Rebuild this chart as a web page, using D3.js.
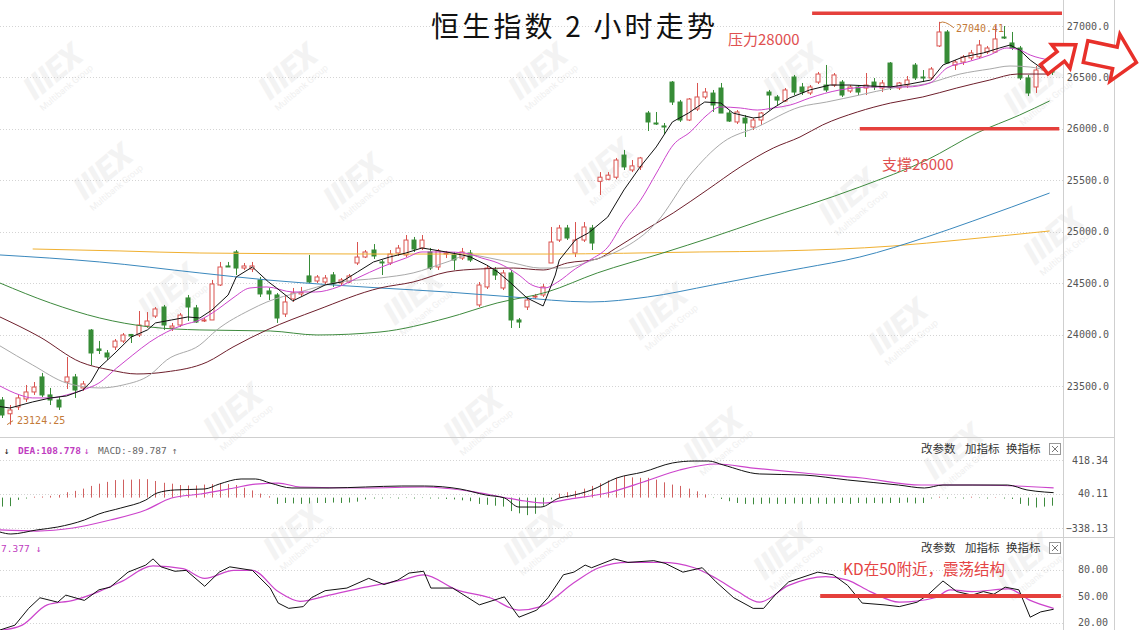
<!DOCTYPE html>
<html><head><meta charset="utf-8">
<script src="https://cdn.jsdelivr.net/npm/d3@7"></script>
<style>body{margin:0;background:#fff}svg{display:block}</style>
</head><body>
<svg id="c" width="1140" height="630"></svg>
<script>
// ---------- DATA ----------
const opens=[23364,23230,23296,23374,23442,23588,23413,23364,23539,23588,23481,24044,23860,23821,23879,23937,24001,23996,24083,24180,24268,24064,24093,24356,24259,24132,24142,24482,24667,24803,24647,24637,24531,24424,24385,24200,24346,24395,24570,24521,24511,24580,24502,24511,24696,24754,24822,24706,24696,24793,24774,24919,24841,24803,24657,24783,24774,24744,24793,24288,24463,24628,24453,24599,24142,24268,24366,24385,24696,24919,25036,24793,24919,25036,25490,25510,25530,25745,25600,25630,26154,26057,26028,26455,26261,26086,26193,26310,26348,26397,26154,26067,26105,26018,26086,26358,26310,26271,26504,26407,26349,26455,26426,26426,26455,26368,26407,26397,26455,26397,26640,26397,26426,26620,26504,26495,26806,26942,26620,26650,26690,26700,26747,26747,26893,26835,26786,26495,26407,26572,26620];
const highs=[23393,23315,23413,23510,23539,23627,23481,23393,23782,23617,23549,24054,23938,23850,23957,24015,24006,24229,24219,24268,24288,24113,24210,24385,24288,24161,24531,24706,24706,24822,24696,24706,24560,24453,24404,24385,24453,24463,24774,24579,24579,24608,24550,24589,24900,24822,24880,24725,24822,24871,24968,24949,24968,24842,24832,24813,24803,24842,24822,24511,24676,24657,24628,24628,24161,24365,24395,24492,25046,25066,25066,25094,25094,25066,25580,25580,25717,25795,25697,25727,26174,26164,26057,26465,26281,26300,26446,26397,26378,26446,26174,26183,26135,26106,26164,26378,26329,26397,26524,26446,26426,26553,26621,26543,26475,26426,26426,26543,26494,26475,26650,26456,26514,26640,26572,26601,27040.41,26961,26669,26718,26767,26864,26806,27000,27000,26942,26806,26524,26611,26631,26650];
const lows=[23189,23124.25,23267,23345,23413,23393,23315,23267,23471,23384,23452,23704,23811,23753,23850,23918,23918,23976,24064,24161,24045,24035,24074,24132,24113,24122,24142,24472,24657,24579,24628,24608,24365,24336,24113,24171,24317,24375,24501,24501,24492,24463,24482,24501,24676,24744,24735,24579,24676,24764,24754,24803,24822,24628,24628,24744,24628,24725,24706,24268,24443,24531,24433,24064,24064,24239,24346,24365,24696,24900,24920,24754,24900,24822,25357,25500,25510,25600,25580,25600,25979,26038,25950,26232,26067,26076,26174,26290,26164,26154,26067,26047,25921,25989,26038,26183,26232,26261,26329,26329,26329,26436,26358,26407,26310,26349,26329,26329,26378,26358,26378,26378,26397,26475,26455,26475,26796,26640,26572,26621,26669,26689,26728,26738,26874,26767,26475,26319,26349,26553,26524];
const closes=[23218,23267,23384,23442,23490,23413,23364,23296,23588,23461,23520,23821,23845,23782,23937,23996,23986,24093,24132,24249,24093,24083,24190,24268,24122,24142,24492,24657,24657,24647,24667,24667,24395,24395,24161,24317,24405,24410,24511,24560,24550,24492,24531,24570,24754,24803,24764,24700,24783,24841,24919,24832,24919,24647,24813,24793,24725,24803,24725,24482,24647,24579,24599,24142,24122,24336,24375,24463,24900,25036,24939,24919,25046,24890,25530,25550,25697,25630,25640,25717,26067,26047,26018,26261,26086,26290,26310,26358,26232,26154,26076,26164,26057,26086,26154,26329,26280,26378,26358,26358,26407,26533,26378,26524,26329,26407,26358,26426,26407,26446,26407,26446,26475,26495,26495,26582,26942,26640,26650,26698,26738,26815,26786,26874,26883,26786,26495,26349,26572,26610,26552];

// moving averages: [bar index, price]
const ma5=[[-0.25,23300],[1,23286],[3.8,23345],[6,23384],[8,23403],[10,23461],[11,23539],[12,23675],[14,23821],[16,23976],[18,24045],[19,24113],[21,24142],[23,24171],[24.5,24161],[26,24239],[28,24385],[29,24560],[31,24657],[33,24511],[34,24453],[36,24327],[38,24404],[40,24482],[42,24511],[44,24608],[46,24706],[48,24754],[50,24793],[52,24842],[55,24803],[57,24774],[58,24754],[60,24676],[61.4,24608],[63,24501],[65,24356],[67,24278],[68.5,24579],[69,24725],[71,24920],[72.6,24988],[75,25143],[77,25406],[79,25629],[81,25824],[83,26067],[85,26154],[87,26261],[89,26251],[90.5,26154],[93,26106],[94,26115],[95.5,26203],[97.5,26300],[100,26378],[102.5,26426],[105,26426],[107.5,26417],[110,26407],[112.4,26436],[115,26475],[116.5,26621],[119,26699],[121.5,26738],[123.5,26786],[124.8,26815],[126,26767],[127.3,26669],[128.5,26601],[129.7,26553]];
const ma10=[[-0.25,23500],[2.2,23413],[3.8,23384],[6,23384],[8,23413],[10,23461],[12,23529],[14.2,23675],[16.2,23802],[18.3,23928],[20.4,24025],[22.4,24093],[24.5,24142],[26.6,24239],[28.6,24356],[30.7,24453],[32.8,24463],[36,24414],[38.8,24414],[41.6,24463],[44,24550],[47,24657],[50,24744],[52,24803],[55,24803],[57.3,24793],[59.4,24744],[61.4,24696],[64,24579],[65.6,24482],[67.2,24453],[68.8,24511],[71,24640],[72.8,24725],[75,24850],[77,25100],[79,25300],[81.1,25580],[83.1,25843],[85.2,25969],[87.3,26135],[88.9,26213],[91.4,26203],[93.5,26183],[95.5,26203],[97.6,26232],[100,26300],[103.7,26378],[107.8,26407],[112,26407],[114.9,26446],[117,26592],[119.5,26650],[122.3,26718],[124.4,26786],[126,26767],[127.3,26718],[129.7,26669]];
const ma20=[[-0.25,23890],[3.8,23704],[8,23529],[12.1,23481],[15,23510],[18.3,23607],[20.4,23753],[24.5,23899],[26.6,24045],[30.7,24239],[32.8,24317],[36.9,24414],[41,24501],[46.8,24550],[50.9,24599],[55.1,24706],[57.9,24774],[60.4,24744],[63.3,24696],[66.6,24647],[69.5,24647],[73.2,24725],[76.5,24822],[81.1,25095],[85.2,25551],[89.3,25872],[93.5,26018],[98.8,26213],[102.1,26261],[106.2,26329],[110.3,26397],[114.3,26436],[118.6,26533],[122.3,26582],[124.8,26611],[127.3,26601],[129.7,26562]];
const ma30=[[-0.25,24171],[4.7,23976],[9.7,23733],[13.4,23656],[16.7,23617],[20.2,23636],[25.4,23733],[28.6,23879],[32.8,24045],[39,24239],[46.8,24453],[50.9,24511],[55.1,24608],[59.2,24638],[63.3,24647],[67,24628],[70,24696],[73.7,24735],[76,24840],[79,24988],[83.1,25182],[87.3,25406],[91.4,25629],[95.5,25814],[98.8,25921],[101.6,26038],[105.9,26164],[110,26251],[114,26310],[118.2,26397],[122.3,26475],[125.7,26533],[129.7,26533]];
const ma60=[[-0.25,24501],[6,24307],[12.1,24161],[18.3,24074],[24.5,24045],[33.2,24035],[39,23996],[46.8,24025],[55.1,24161],[61.3,24307],[67.5,24414],[73.7,24599],[81.8,24793],[88,24949],[93.8,25104],[106.2,25435],[114.5,25697],[120.7,25960],[126,26135],[129.7,26271]];
const ma120=[[-0.25,24774],[12.1,24706],[24.5,24599],[32.8,24531],[41,24482],[46.8,24453],[55.1,24414],[63.3,24365],[72.8,24317],[79.9,24365],[88,24482],[93.8,24570],[99.2,24647],[106.2,24754],[114.5,24949],[120.2,25104],[129.7,25376]];
const ma250=[[3.8,24832],[14.6,24813],[24.5,24793],[46.8,24783],[67.5,24783],[86.4,24803],[96.3,24813],[110.3,24861],[118.6,24920],[129.7,25007]];

const priceTicks=[23500,24000,24500,25000,25500,26000,26500,27000];

// MACD panel
const dif=[[-0.25,-383],[1.1,-405],[4.3,-360],[6.9,-327],[10.2,-249],[12,-182],[14.7,-116],[17.8,-27],[19.2,51],[21.4,85],[25.1,96],[26.9,151],[29.6,207],[31.4,207],[33.2,162],[35.9,107],[40.5,107],[45,118],[49.5,129],[52.3,129],[56.7,96],[59.9,29],[62.2,-4],[64,-105],[66.7,-105],[69,-4],[70.3,18],[73,85],[76.1,218],[79.4,285],[83,385],[85.7,407],[87.5,407],[89.3,363],[93.8,263],[99.3,251],[104.7,196],[111,140],[114.2,107],[116.5,140],[120.1,140],[124.5,140],[126.9,85],[129.1,62],[130.2,55]];
const dea=[[-0.25,-360],[4.3,-372],[8.8,-338],[13.4,-249],[17.8,-138],[21,-4],[24.6,40],[28.7,107],[31.4,151],[34.2,162],[36.9,118],[45,107],[52.3,118],[58.6,62],[64,-27],[67.1,-60],[70.3,-16],[74.9,51],[79.4,174],[83.9,307],[88.4,374],[93,329],[99.3,274],[106.5,218],[113.8,140],[120.1,140],[125.5,129],[130.2,109]];
const macdHist=[-100,-95,-25,-10,10,12,20,30,60,75,100,130,155,175,195,200,200,205,205,185,165,155,140,135,135,145,150,160,150,140,110,80,45,15,-70,-60,-65,-70,-65,-60,-60,-55,-60,-55,-45,-20,-10,-10,-5,-10,-5,-10,-5,-10,-10,-15,-20,-30,-40,-70,-80,-90,-100,-150,-175,-195,-180,-90,-20,45,60,75,100,130,160,190,220,240,225,220,220,200,170,145,130,100,70,35,-5,-15,-40,-60,-70,-75,-70,-65,-70,-70,-65,-70,-70,-65,-70,-65,-60,-70,-60,-65,-60,-65,-60,-60,-55,-65,-60,-10,10,-10,-5,-10,10,-5,-10,5,-10,-15,-70,-90,-110,-100,-90];
const macdTicks=[418.34,40.11,-338.13];

// KD panel
const kLine=[[-0.25,11.5],[1.6,17],[3.3,36],[4.7,48],[6.9,43],[7.9,51],[10.2,45],[12,57],[13.4,60],[15.6,77],[17.8,85],[18.7,92],[19.7,83],[21.4,78],[22.8,79],[25.1,61],[26.9,77],[28.2,83],[31,79],[33.2,59],[34.2,42],[35.5,36],[37.3,38],[38.3,48],[40,56],[42.7,59],[45.4,70],[47.3,63],[49,68],[50.4,76],[52.2,78],[53.1,59],[55.8,59],[57.2,51],[59.1,40],[62.2,49],[64,26],[66.2,34],[67.6,48],[69.5,74],[70.8,77],[72.2,85],[73,82],[75.8,92],[77.5,88],[80.7,90],[82.1,87],[84.3,77],[86.7,82],[88.4,66],[90.6,48],[93,36],[94.3,36],[95.7,51],[97.4,66],[101,77],[102.9,74],[104.7,62],[106.5,42],[109.2,40],[111.1,38],[113.3,43],[114.6,51],[116.5,67],[118.2,55],[120.1,51],[121.5,55],[122.8,52],[124.2,60],[125.9,57],[127.3,26],[128.6,32],[130.2,35]];
const dLine=[[-0.25,11],[2.5,17],[5.6,40],[8.8,45],[12,55],[14.7,66],[18.7,84],[22.4,81],[25.1,70],[28.7,79],[31,79],[34.2,55],[36.9,44],[40.5,51],[45,60],[49.5,68],[52.2,74],[56.3,57],[60.4,48],[64,34],[66.7,38],[70.8,65],[73.9,82],[77.5,88],[81.6,88],[85.7,82],[88.4,70],[91.1,55],[93.8,43],[97.4,62],[102,72],[104.7,68],[107.5,55],[111.1,43],[115.5,48],[117.4,57],[120.1,55],[124.6,58],[127.3,45],[130.2,36]];
const kdTicks=[80,50,20];

const wmPos=[[60,80],[295,80],[545,80],[800,80],[1040,95],[110,180],[360,190],[610,175],[855,205],[1060,245],[175,300],[420,305],[665,320],[905,335],[240,420],[480,425],[720,445],[960,460],[300,540],[540,545],[790,560],[1030,570]];

// ---------- DRAWING ----------
const svg=d3.select('#c');
const plotRight=1063;
const x=d3.scaleLinear().domain([0,130]).range([2,1052]);
const y=d3.scaleLinear().domain([23500,27000]).range([386,26]);
const yM=d3.scaleLinear().domain([-338.13,418.34]).range([528,460]);
const yK=d3.scaleLinear().domain([20,80]).range([622.5,569.5]);
const RED='#d9534f', GREEN='#378c37', ANN='#e5403c';
const mono='"DejaVu Sans Mono","Liberation Mono",monospace';
const cjk='"Noto Sans CJK SC","Noto Sans",sans-serif';

const defs=svg.append('defs');
defs.append('clipPath').attr('id','cpMain').append('rect').attr('x',0).attr('y',0).attr('width',plotRight).attr('height',437);
defs.append('clipPath').attr('id','cpMacd').append('rect').attr('x',0).attr('y',438).attr('width',plotRight).attr('height',99);
defs.append('clipPath').attr('id','cpKd').append('rect').attr('x',0).attr('y',538).attr('width',plotRight).attr('height',92);

// watermarks
const wm=svg.append('g');
wmPos.forEach(([wx,wy])=>{
  const g=wm.append('g').attr('transform',`translate(${wx},${wy}) rotate(-40)`);
  g.append('text').text('IIIEX').attr('text-anchor','middle').attr('font-family','Roboto,sans-serif').attr('font-weight',900).attr('font-style','italic').attr('font-size',32).attr('fill','#f3f3f3');
  g.append('text').text('Multibank Group').attr('text-anchor','middle').attr('y',13).attr('font-family','Roboto,sans-serif').attr('font-size',9).attr('fill','#f0f0f0');
});

// grid lines
const grid=svg.append('g').attr('stroke','#d4d4d4').attr('stroke-dasharray','1,2');
grid.selectAll('.gp').data(priceTicks).join('line').attr('x1',0).attr('x2',plotRight).attr('y1',d=>Math.round(y(d))+0.5).attr('y2',d=>Math.round(y(d))+0.5);
grid.selectAll('.gm').data(macdTicks).join('line').attr('x1',0).attr('x2',plotRight).attr('y1',d=>Math.round(yM(d))+0.5).attr('y2',d=>Math.round(yM(d))+0.5);
grid.selectAll('.gk').data(kdTicks).join('line').attr('x1',0).attr('x2',plotRight).attr('y1',d=>Math.round(yK(d))+0.5).attr('y2',d=>Math.round(yK(d))+0.5);

// panel frame
const frame=svg.append('g').attr('stroke','#cfcfcf').attr('stroke-width',1);
frame.append('line').attr('x1',0).attr('x2',1114).attr('y1',437.5).attr('y2',437.5);
frame.append('line').attr('x1',0).attr('x2',1114).attr('y1',537.5).attr('y2',537.5);
frame.append('line').attr('x1',plotRight+0.5).attr('x2',plotRight+0.5).attr('y1',0).attr('y2',630);
frame.append('line').attr('x1',1114.5).attr('x2',1114.5).attr('y1',0).attr('y2',630);

// main panel
const main=svg.append('g').attr('clip-path','url(#cpMain)');
const idx=d3.range(opens.length);
const bars=main.append('g');
const bw=5;
bars.selectAll('line').data(idx).join('line')
  .attr('x1',i=>Math.round(x(i))+0.5).attr('x2',i=>Math.round(x(i))+0.5)
  .attr('y1',i=>y(highs[i])).attr('y2',i=>y(lows[i]))
  .attr('stroke',i=>closes[i]>=opens[i]?RED:GREEN).attr('stroke-width',1);
bars.selectAll('rect').data(idx).join('rect')
  .attr('x',i=>Math.round(x(i))-2)
  .attr('y',i=>Math.min(y(opens[i]),y(closes[i])))
  .attr('width',bw-1)
  .attr('height',i=>Math.max(1,Math.abs(y(opens[i])-y(closes[i]))))
  .attr('fill',i=>closes[i]>=opens[i]?'#fff':GREEN)
  .attr('stroke',i=>closes[i]>=opens[i]?RED:GREEN).attr('stroke-width',1);

const lineP=d3.line().x(d=>x(d[0])).y(d=>y(d[1])).curve(d3.curveMonotoneX);
const lineL=d3.line().x(d=>x(d[0])).y(d=>y(d[1]));
const maDefs=[[ma250,'#f0b030',lineP],[ma120,'#3a88bd',lineP],[ma60,'#3e8a3e',lineP],[ma30,'#6e1f2c',lineP],[ma20,'#a9a9a9',lineP],[ma10,'#cc44cc',lineP],[ma5,'#111',lineL]];
maDefs.forEach(([data,col,gen])=>{
  main.append('path').datum(data).attr('d',gen).attr('fill','none').attr('stroke',col).attr('stroke-width',1);
});

// high / low markers
const iMax=d3.maxIndex(highs), iMin=d3.minIndex(lows);
const lab=svg.append('g').attr('font-family',mono).attr('font-size',10).attr('fill','#c47a38');
lab.append('path').attr('d',`M${x(iMax)+1},${y(highs[iMax])+1} q4,-3 14,5`).attr('fill','none').attr('stroke','#c47a38');
lab.append('text').attr('x',x(iMax)+17).attr('y',y(highs[iMax])+10).text(d3.format('.2f')(highs[iMax]));
lab.append('path').attr('d',`M${x(iMin)-3},${y(lows[iMin])} l6,-4`).attr('fill','none').attr('stroke','#c47a38');
lab.append('text').attr('x',x(iMin)+7).attr('y',y(lows[iMin])-1).text(d3.format('.2f')(lows[iMin]));

// price axis labels
svg.append('g').selectAll('text').data(priceTicks).join('text')
  .attr('x',1109).attr('y',d=>y(d)).attr('dy','0.35em').attr('text-anchor','end')
  .attr('font-family',mono).attr('font-size',10).attr('fill','#555')
  .text(d=>d3.format('.1f')(d));

// MACD panel
const macdG=svg.append('g').attr('clip-path','url(#cpMacd)');
macdG.selectAll('line').data(idx).join('line')
  .attr('x1',i=>Math.round(x(i))+0.5).attr('x2',i=>Math.round(x(i))+0.5)
  .attr('y1',yM(0)).attr('y2',i=>yM(macdHist[i]))
  .attr('stroke',i=>macdHist[i]>=0?'#d06060':'#3d8a3d').attr('stroke-width',1);
const lineM=d3.line().x(d=>x(d[0])).y(d=>yM(d[1])).curve(d3.curveMonotoneX);
macdG.append('path').datum(dea).attr('d',lineM).attr('fill','none').attr('stroke','#cc44cc').attr('stroke-width',1.2);
macdG.append('path').datum(dif).attr('d',lineM).attr('fill','none').attr('stroke','#111').attr('stroke-width',1);
svg.append('g').selectAll('text').data(macdTicks).join('text')
  .attr('x',1108).attr('y',d=>yM(d)).attr('dy','0.35em').attr('text-anchor','end')
  .attr('font-family',mono).attr('font-size',10).attr('fill','#555').text(d=>d3.format('.2f')(d));

// KD panel
const kdG=svg.append('g').attr('clip-path','url(#cpKd)');
kdG.append('path').datum(dLine).attr('d',d3.line().x(d=>x(d[0])).y(d=>yK(d[1])).curve(d3.curveMonotoneX)).attr('fill','none').attr('stroke','#cc44cc').attr('stroke-width',1.2);
kdG.append('path').datum(kLine).attr('d',d3.line().x(d=>x(d[0])).y(d=>yK(d[1]))).attr('fill','none').attr('stroke','#111').attr('stroke-width',1);
svg.append('g').selectAll('text').data(kdTicks).join('text')
  .attr('x',1108).attr('y',d=>yK(d)).attr('dy','0.35em').attr('text-anchor','end')
  .attr('font-family',mono).attr('font-size',10).attr('fill','#555').text(d=>d3.format('.2f')(d));

// panel headers
const hd=svg.append('g').attr('font-family',mono).attr('font-size',9.5);
hd.append('text').attr('x',4).attr('y',454).attr('fill','#111').text('↓');
hd.append('text').attr('x',18).attr('y',454).attr('fill','#c03cc0').attr('font-weight','bold').text('DEA:108.778');
hd.append('text').attr('x',84).attr('y',454).attr('fill','#c03cc0').text('↓');
hd.append('text').attr('x',98).attr('y',454).attr('fill','#666').text('MACD:-89.787');
hd.append('text').attr('x',172).attr('y',454).attr('fill','#666').text('↑');
hd.append('text').attr('x',1).attr('y',552).attr('fill','#c03cc0').text('7.377');
hd.append('text').attr('x',36).attr('y',552).attr('fill','#c03cc0').text('↓');
[449,548].forEach(cy=>{
  const g=svg.append('g').attr('font-family',cjk).attr('font-size',11.5).attr('fill','#333');
  g.append('text').attr('x',921).attr('y',cy+4).text('改参数');
  g.append('text').attr('x',965).attr('y',cy+4).text('加指标');
  g.append('text').attr('x',1006).attr('y',cy+4).text('换指标');
  g.append('rect').attr('x',1049.5).attr('y',cy-5.5).attr('width',11).attr('height',11).attr('fill','#fff').attr('stroke','#999');
  g.append('path').attr('d',`M${1052},${cy-3} L${1058},${cy+3} M${1058},${cy-3} L${1052},${cy+3}`).attr('stroke','#777');
});

// annotations
const ann=svg.append('g');
ann.append('line').attr('x1',x(100.3)).attr('x2',plotRight-1).attr('y1',y(27125)).attr('y2',y(27125)).attr('stroke',ANN).attr('stroke-width',3.5);
ann.append('line').attr('x1',x(106.2)).attr('x2',x(130.9)).attr('y1',y(26000)).attr('y2',y(26000)).attr('stroke',ANN).attr('stroke-width',3.5);
ann.append('line').attr('x1',x(101.3)).attr('x2',x(131.1)).attr('y1',yK(50)).attr('y2',yK(50)).attr('stroke',ANN).attr('stroke-width',4);
ann.append('text').attr('x',728).attr('y',45).attr('font-family',cjk).attr('font-size',15).attr('fill','#e05050').text('压力28000');
ann.append('text').attr('x',882).attr('y',170).attr('font-family',cjk).attr('font-size',15).attr('fill','#e05050').text('支撑26000');
ann.append('text').attr('x',843).attr('y',575).attr('font-family',cjk).attr('font-size',15.5).attr('fill','#e54545').text('KD在50附近，震荡结构');

// arrows
function arrow(cx,cy,ang,tail,base,tip,sh,hh){
  const p=[[-tail,-sh],[base,-sh],[base,-hh],[tip,0],[base,hh],[base,sh],[-tail,sh]];
  svg.append('path').attr('d','M'+p.map(q=>q.join(',')).join('L')+'Z')
    .attr('transform',`translate(${cx},${cy}) rotate(${ang})`)
    .attr('fill','#fff').attr('stroke','#e8302a').attr('stroke-width',3.5).attr('stroke-linejoin','miter');
}
arrow(1060,57,-38,20,1,20,6,15);
arrow(1111,57,12,26,4,26,11,24);

// title
svg.append('text').attr('x',431).attr('y',37)
  .attr('textLength',284).attr('lengthAdjust','spacing')
  .attr('font-family',cjk).attr('font-size',28).attr('fill','#111').text('恒生指数 2 小时走势');
</script>
</body></html>
